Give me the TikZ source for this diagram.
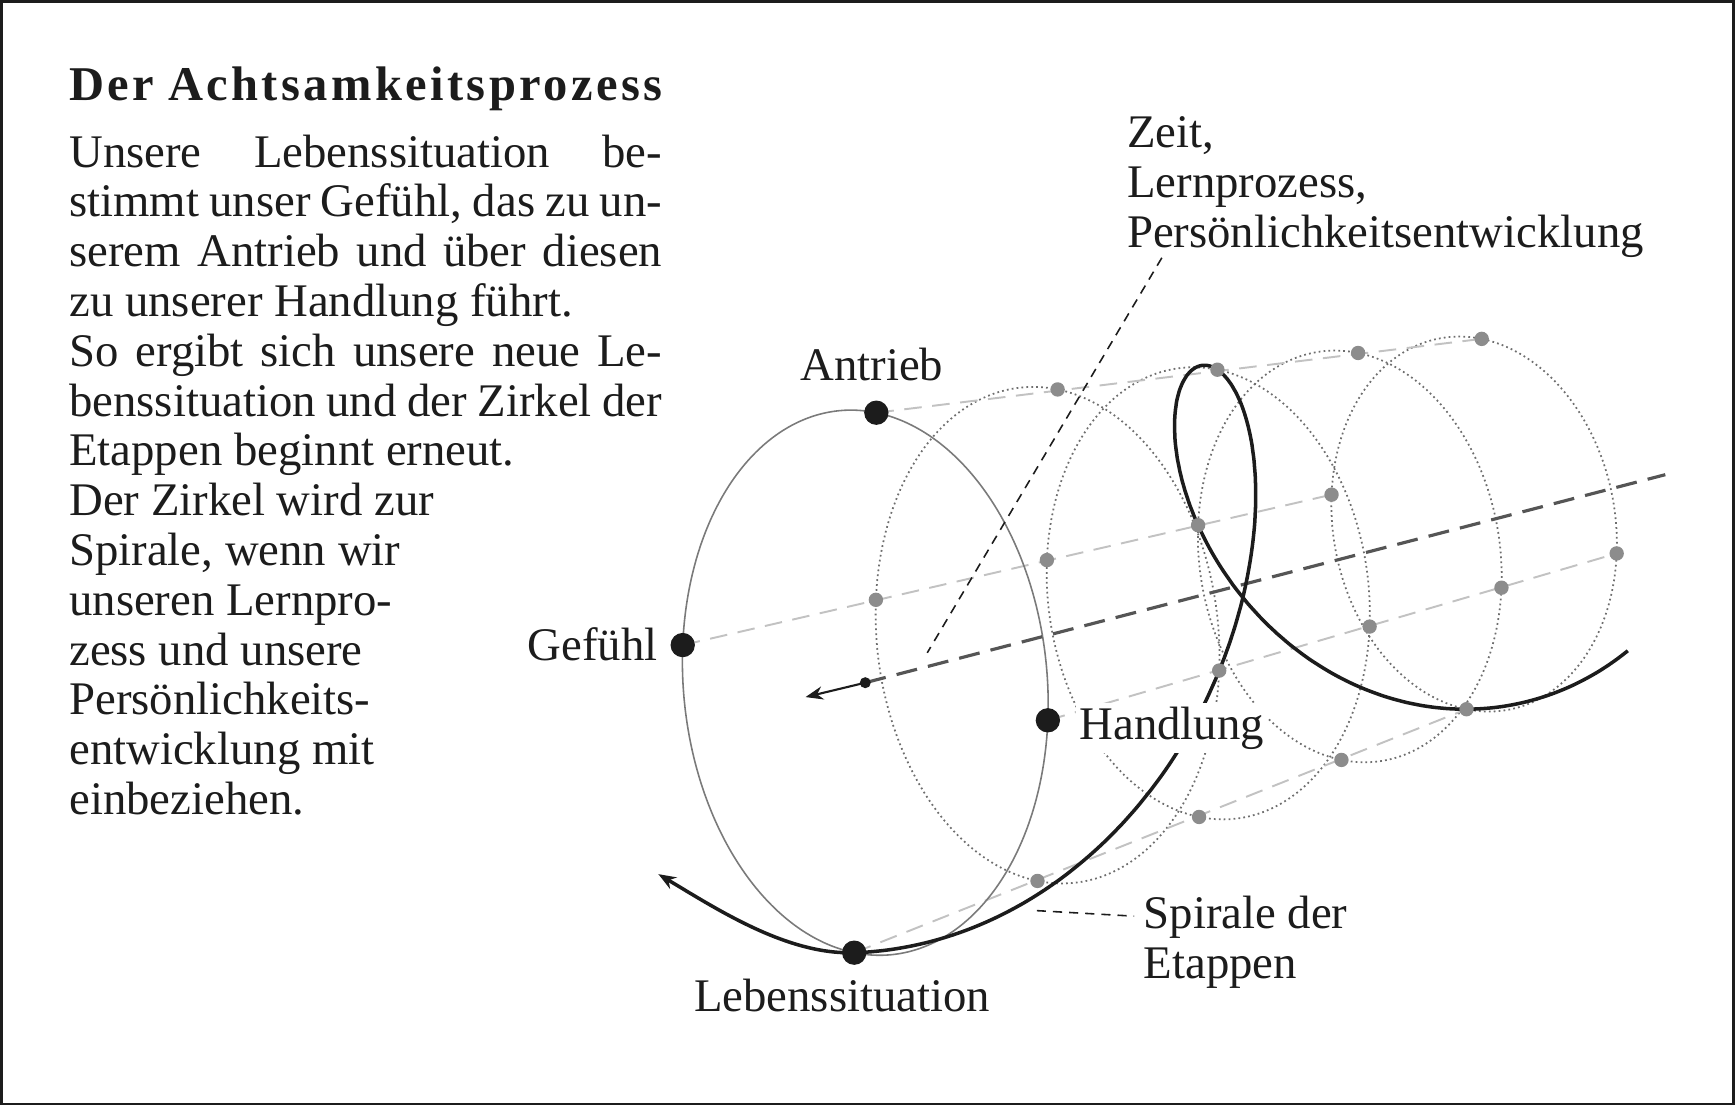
\documentclass[tikz,border=0pt]{standalone}
\usepackage{fontspec}
\setmainfont{Liberation Serif}
\usetikzlibrary{arrows.meta}
\definecolor{ink}{HTML}{1C1C1C}
\definecolor{dotgrey}{HTML}{8C8C8C}
\definecolor{ringgrey}{HTML}{6E6E6E}
\definecolor{rimgrey}{HTML}{7A7A7A}
\definecolor{railgrey}{HTML}{C2C2C2}
\definecolor{axisgrey}{HTML}{555555}
\newlength\colw
\setlength\colw{168.7pt}
\newcommand\jline[1]{\makebox[\colw][s]{\spaceskip=0pt\xspaceskip=0pt\relax#1}}

\begin{document}
\begin{tikzpicture}[x=0.11065mm,y=-0.11065mm,
  >={Stealth[length=5pt,width=3.8pt]},
  txt/.style={font=\fontsize{13.3}{14.17}\selectfont,text=ink,inner sep=0pt},
  ring/.style={draw=ringgrey,line width=0.5pt,dash pattern=on 0.5pt off 0.9pt},
  rail/.style={draw=railgrey,line width=0.55pt,dash pattern=on 5pt off 3pt},
  lead/.style={draw=ink,line width=0.45pt,dash pattern=on 2.6pt off 2pt},
  knot/.style={fill=dotgrey},
  stage/.style={fill=ink,draw=ink,line width=0.3pt},
  declare function={
    cx(\s)=782+1375*(1-exp(-0.127833*\s));
    cy(\s)=617-358.3*(1-exp(-0.127833*\s));
    fa(\s)=exp(-0.061875*\s);
    fb(\s)=exp(-0.094311*\s);
    hx(\s,\t)=cx(\s)+165*fa(\s)*cos(\t)+10*fb(\s)*sin(\t);
    hy(\s,\t)=cy(\s)+34*fa(\s)*cos(\t)-244*fb(\s)*sin(\t);
  }]
  \useasboundingbox (0,0) rectangle (1568,999);
  \draw[ink,line width=0.8pt] (1.3,1.3) rectangle (1566.7,997.7);

  % Text column on the left
  \node[txt,anchor=base west,font=\fontsize{13.8}{16}\selectfont\bfseries]
    (titel) at (62,91)
    {\jline{\addfontfeature{LetterSpace=7}Der Achtsamkeitsprozess}};
  \node[txt,anchor=north west,text width=\colw,align=flush left] (text)
    at (62,121)
    {\jline{Unsere Lebenssituation be-}\\
     \jline{stimmt unser Gefühl, das zu un-}\\
     \jline{serem Antrieb und über diesen}\\
     zu unserer Handlung führt.\\
     \jline{So ergibt sich unsere neue Le-}\\
     \jline{benssituation und der Zirkel der}\\
     Etappen beginnt erneut.\\
     Der Zirkel wird zur\\
     Spirale, wenn wir\\
     unseren Lernpro-\\
     zess und unsere\\
     Persönlichkeits-\\
     entwicklung mit\\
     einbeziehen.};

  % Stage points on the five rings: 0 Handlung, 90 Antrieb,
  % 180 Gefuehl, 270 Lebenssituation.
  \foreach \k in {0,...,4}
    \foreach \t in {0,90,180,270}
      \coordinate (e\k-\t) at ({hx(\k,\t)},{hy(\k,\t)});

  \foreach \k in {1,...,4}
    \draw[ring] plot[domain=0:360,samples=120,smooth]
      ({hx(\k,\x)},{hy(\k,\x)});
  \foreach \t in {0,90,180,270}
    \draw[rail] (e0-\t) -- (e4-\t);
  \draw[rimgrey,line width=0.45pt] plot[domain=0:360,samples=120,smooth]
    ({hx(0,\x)},{hy(0,\x)});

  % Time axis, pointing back to the first ring
  \coordinate (mitte) at ({cx(0)},{cy(0)});
  \coordinate (zeitende) at (1505,429);
  \coordinate (pfeil) at (728,630);
  \draw[axisgrey,line width=0.9pt,dash pattern=on 6pt off 3.2pt]
    (mitte) -- (zeitende);
  \draw[->,ink,line width=0.6pt] (mitte) -- (pfeil);
  \fill[ink] (mitte) circle[radius=5];

  % Spiral through the stages
  \coordinate (spitze) at (595,790);
  \draw[<-,ink,line width=1pt] (spitze)
    .. controls (650,823) and (712,863) .. (e0-270)
    -- plot[domain=0:4.52,samples=260,smooth]
      ({hx(\x,270+90*\x)},{hy(\x,270+90*\x)});

  \foreach \k in {1,...,4}
    \foreach \t in {0,90,180,270}
      \fill[knot] (e\k-\t) circle[radius=6.5];
  \foreach \t in {0,90,180,270}
    \filldraw[stage] (e0-\t) circle[radius=10.5];

  % Labels
  \node[txt,anchor=base] (antrieb) at (788,344) {Antrieb};
  \node[txt,anchor=base east] (gefuehl) at (595,597) {Gefühl};
  \node[txt,anchor=base west,fill=white,inner sep=1pt] (handlung)
    at (972,668) {Handlung};
  \node[txt,anchor=base] (leben) at (761,914) {Lebenssituation};
  \node[txt,anchor=north west,align=flush left] (zeit) at (1018,105)
    {Zeit,\\Lernprozess,\\Persönlichkeitsentwicklung};
  \node[txt,anchor=north west,align=flush left] (spirale) at (1033,809)
    {Spirale der\\Etappen};

  \coordinate (zeitkopf) at (1050,233);
  \coordinate (zeitfuss) at (838,590);
  \draw[lead] (zeitkopf) -- (zeitfuss);
  \coordinate (spiralfuss) at (937,823);
  \coordinate (spiralkopf) at (1025,828);
  \draw[lead] (spiralfuss) -- (spiralkopf);
\end{tikzpicture}
\end{document}
